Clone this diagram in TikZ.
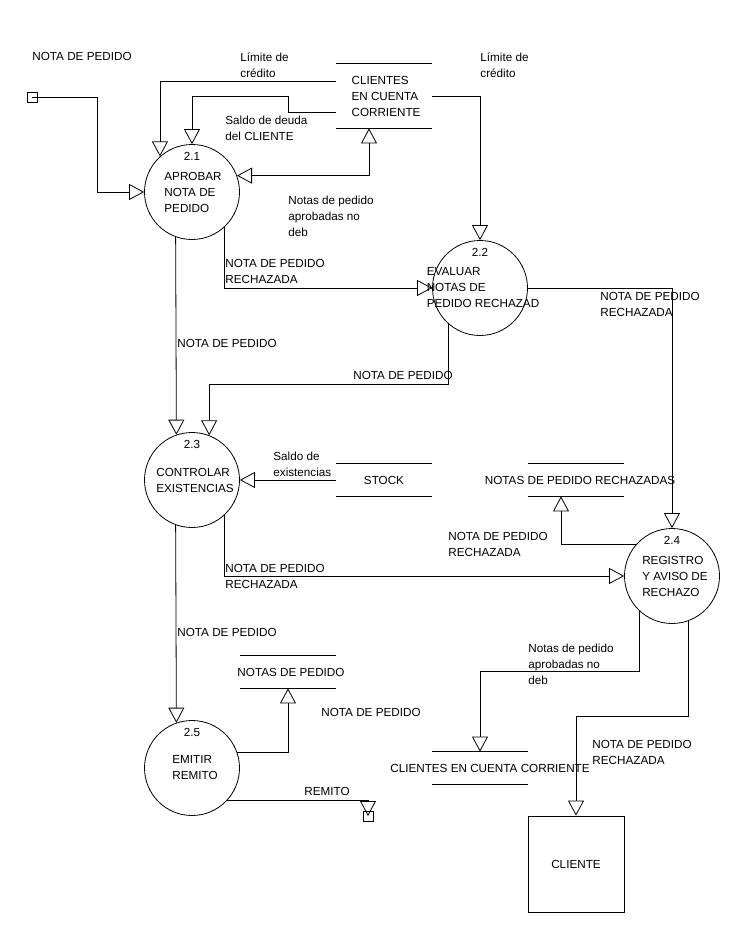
\documentclass[tikz,border=0pt]{standalone}
\usepackage{fontspec}
\setmainfont{Liberation Sans}
\usetikzlibrary{arrows.meta}

\tikzset{
  proc/.style={circle,draw,minimum size=95pt,inner sep=0pt},
  store/.style={minimum width=96pt,minimum height=32pt,inner sep=0pt},
  ent/.style={draw,minimum size=96pt,inner sep=0pt},
  term/.style={draw,minimum size=10pt,inner sep=0pt},
  lbl/.style={anchor=north west,inner sep=0pt,align=left},
}

\begin{document}
\begin{tikzpicture}[x=1pt,y=-1pt,line width=0.8pt,
    >={Triangle[open,length=15pt,width=16pt]},
    font=\fontsize{11.7}{16}\selectfont]
  \fill[white] (0,0) rectangle (745,937);
  \useasboundingbox (0,0) rectangle (745,937);

  % procesos
  \node[proc] (p21) at (192,192) {};
  \node[proc] (p22) at (480,288) {};
  \node[proc] (p23) at (192,480) {};
  \node[proc] (p24) at (672,576) {};
  \node[proc] (p25) at (192,768) {};
  \node[align=left] (p21t) at ([xshift=1pt]p21) {APROBAR\\NOTA DE\\PEDIDO};
  \node[align=left] (p22t) at ([xshift=3pt]p22) {EVALUAR\\NOTAS DE\\PEDIDO RECHAZAD};
  \node[align=left] (p23t) at ([xshift=3pt]p23) {CONTROLAR\\EXISTENCIAS};
  \node[align=left] (p24t) at ([xshift=3pt]p24) {REGISTRO\\Y AVISO DE\\RECHAZO};
  \node[align=left] (p25t) at ([xshift=3pt]p25) {EMITIR\\REMITO};
  \foreach \p/\n in {p21/2.1,p22/2.2,p23/2.3,p24/2.4,p25/2.5}
    \node (\p n) at ([yshift=35.5pt]\p.center) {\n};

  % almacenes
  \node[store,minimum height=64pt] (ccA) at (384,96) {};
  \node[store] (stock) at (384,480) {};
  \node[store] (rech) at (576,480) {};
  \node[store] (ndp) at (288,672) {};
  \node[store] (ccB) at (480,768) {};
  \foreach \s in {ccA,stock,rech,ndp,ccB}
    \draw (\s.north west) -- (\s.north east) (\s.south west) -- (\s.south east);
  \node[align=left] (ccAt) at ([xshift=2pt]ccA) {CLIENTES\\EN CUENTA\\CORRIENTE};
  \node (stockt) at (stock) {STOCK};
  \node (recht) at ([xshift=4pt]rech) {NOTAS DE PEDIDO RECHAZADAS};
  \node (ndpt) at ([xshift=3pt]ndp) {NOTAS DE PEDIDO};
  \node (ccBt) at ([xshift=10pt]ccB) {CLIENTES EN CUENTA CORRIENTE};

  % entidad externa y terminales
  \node[ent] (cli) at (576,864) {CLIENTE};
  \node[term] (src) at (32,97) {};
  \node[term] (dst) at (368,816) {};

  % flujos
  \draw[->] (src.center) -- ++(65,0) |- (p21.west);
  \draw[->] ([yshift=15pt]ccA.west) -| (p21.132);
  \draw[->] ([yshift=-16pt]ccA.west) -- ++(-47,0) -- ++(0,-16) -| (p21.north);
  \draw[<->] (p21.20) -| ([xshift=-15pt]ccA.south);
  \draw[->] (ccA.east) -| (p22.north);
  \draw[->] (p21.313.5) |- (p22.west);
  \draw[->] (p21.250.3) -- (p23.109.7);
  \draw[->] (p22.229.3) -- ++(0,60.5) -| (p23.69.9);
  \draw[->] (stock.west) -- (p23.east);
  \draw[->] (p23.313.5) |- (p24.west);
  \draw[->] (p23.250.3) -- (p25.109.7);
  \draw[->] (p22.east) -| (p24.north);
  \draw[->] (p24.138.5) -| ([xshift=-15pt]rech.south);
  \draw[->] (p24.227.7) -- ++(0,60.5) -| (ccB.north);
  \draw[->] (p24.290.1) -- ++(0,95.5) -| (cli.north);
  \draw[->] (p25.19.6) -| (ndp.south);
  \draw[->] (p25.317.7) -| (dst.center);

  % etiquetas
  \node[lbl] (tIn) at (32,52) {NOTA DE PEDIDO};
  \node[lbl] (tLimA) at (240,52) {Límite de\\crédito};
  \node[lbl] (tLimB) at (480,52) {Límite de\\crédito};
  \node[lbl] (tSaldo) at (225,116) {Saldo de deuda\\del CLIENTE};
  \node[lbl] (tAprA) at (288,196) {Notas de pedido\\aprobadas no\\deb};
  \node[lbl] (tRechA) at (225,259) {NOTA DE PEDIDO\\RECHAZADA};
  \node[lbl] (tRechB) at (600,291.5) {NOTA DE PEDIDO\\RECHAZADA};
  \node[lbl] (tNotaA) at (177,339) {NOTA DE PEDIDO};
  \node[lbl] (tNotaB) at (353,371) {NOTA DE PEDIDO};
  \node[lbl] (tStock) at (273,452) {Saldo de\\existencias};
  \node[lbl] (tRechC) at (448,532) {NOTA DE PEDIDO\\RECHAZADA};
  \node[lbl] (tRechD) at (225,563.5) {NOTA DE PEDIDO\\RECHAZADA};
  \node[lbl] (tNotaC) at (177,627.5) {NOTA DE PEDIDO};
  \node[lbl] (tAprB) at (528,643.5) {Notas de pedido\\aprobadas no\\deb};
  \node[lbl] (tNotaD) at (321,707.5) {NOTA DE PEDIDO};
  \node[lbl] (tRechE) at (592,739.5) {NOTA DE PEDIDO\\RECHAZADA};
  \node[lbl] (tRemito) at (304,786.5) {REMITO};
\end{tikzpicture}
\end{document}
